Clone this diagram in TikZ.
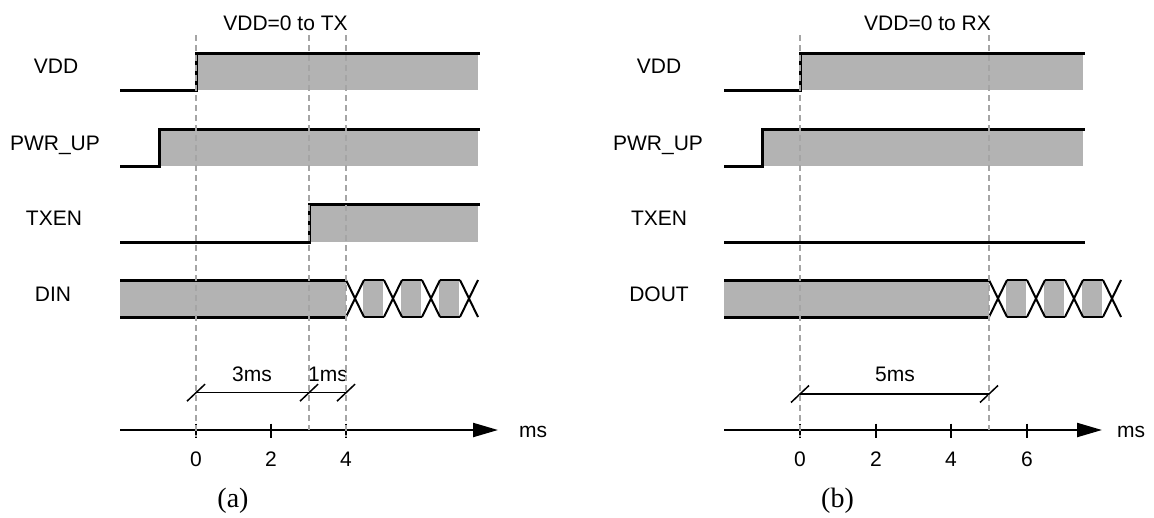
\documentclass[tikz,border=0pt]{standalone}
\usepackage{fontspec}
\setmainfont{Liberation Sans}
\newfontfamily\capfont{Liberation Serif}
\usetikzlibrary{arrows.meta}
\definecolor{sigfill}{RGB}{179,179,179}
\definecolor{guidegray}{RGB}{165,165,165}
\begin{document}
\begin{tikzpicture}[x=1pt,y=-1pt,
  sig/.style={line width=3pt,line join=miter},
  xline/.style={line width=2pt},
  axisline/.style={line width=2.2pt},
  tickline/.style={line width=2pt},
  dimline/.style={line width=1.5pt},
  guide/.style={guidegray,line width=1.3pt,dash pattern=on 6pt off 4pt},
  lbl/.style={inner sep=0pt,anchor=base,font=\fontsize{21}{25}\selectfont},
  captxt/.style={inner sep=0pt,anchor=base,font=\capfont\fontsize{28}{32}\selectfont}]
\useasboundingbox (0,0) rectangle (1154,517);

% ================= panel (a) =================
\fill[sigfill] (196,53) rectangle (478,90);
\fill[sigfill] (159,129) rectangle (478,166);
\fill[sigfill] (309,204) rectangle (478,242);
\fill[sigfill] (120,280) rectangle (346,317);
\foreach \k in {0,1,2} \fill[sigfill] ({363+38*\k},280) rectangle ({383+38*\k},317);

\draw[sig] (120,90) -- (196,90) -- (196,53) -- (480,53);
\draw[sig] (120,166) -- (159,166) -- (159,129) -- (480,129);
\draw[sig] (120,242) -- (309,242) -- (309,204) -- (480,204);
\draw[sig] (120,280) -- (346,280);
\draw[sig] (120,317) -- (346,317);
\foreach \k in {0,...,3} {
  \draw[xline] ({346+38*\k},280) -- ({364+38*\k},317);
  \draw[xline] ({346+38*\k},317) -- ({364+38*\k},280);
}
\foreach \k in {0,1,2} {
  \draw[xline] ({364+38*\k},280) -- ({384+38*\k},280);
  \draw[xline] ({364+38*\k},317) -- ({384+38*\k},317);
}

\node[lbl] (aVDD) at (56,73.5) {VDD};
\node[lbl] (aPWR) at (55,150) {PWR\_UP};
\node[lbl] (aTXEN) at (54,225) {TXEN};
\node[lbl] (aDIN) at (53,301.5) {DIN};
\node[lbl] (atitle) at (285.5,30) {VDD=0 to TX};

% axis
\coordinate (aax0) at (120,430);
\coordinate (aax1) at (498,430);
\draw[axisline,-{Triangle[length=25pt,width=14pt]}] (aax0) -- (aax1);
\foreach \x/\t in {196/0,271/2,346/4} {
  \draw[tickline] (\x,423.5) -- (\x,437.5);
  \node[lbl] (at\t) at (\x,466.5) {\t};
}
\node[lbl] (ams) at (533,437) {ms};

% dimension
\coordinate (ad0) at (196,392.7);
\coordinate (ad3) at (309,392.7);
\coordinate (ad4) at (346,392.7);
\draw[dimline] (ad0) -- (ad4);
\foreach \c in {ad0,ad3,ad4} \draw[dimline] ([shift={(-9,8.5)}]\c) -- ([shift={(9,-8.5)}]\c);
\node[lbl] (a3ms) at (252,381.7) {3ms};
\node[lbl] (a1ms) at (328,381.7) {1ms};

\node[captxt] (acap) at (233,507.5) {(a)};

\draw[guide] (196,35) -- (196,437);
\draw[guide] (309,35) -- (309,430);
\draw[guide] (346,35) -- (346,437);

% ================= panel (b) =================
\fill[sigfill] (800,53) rectangle (1083,90);
\fill[sigfill] (762,129) rectangle (1083,166);
\fill[sigfill] (724,280) rectangle (989,317);
\foreach \k in {0,1,2} \fill[sigfill] ({1006+38*\k},280) rectangle ({1026+38*\k},317);

\draw[sig] (724,90) -- (800,90) -- (800,53) -- (1085,53);
\draw[sig] (724,166) -- (762,166) -- (762,129) -- (1085,129);
\draw[sig] (724,242) -- (1085,242);
\draw[sig] (724,280) -- (989,280);
\draw[sig] (724,317) -- (989,317);
\foreach \k in {0,...,3} {
  \draw[xline] ({989+38*\k},280) -- ({1007+38*\k},317);
  \draw[xline] ({989+38*\k},317) -- ({1007+38*\k},280);
}
\foreach \k in {0,1,2} {
  \draw[xline] ({1007+38*\k},280) -- ({1027+38*\k},280);
  \draw[xline] ({1007+38*\k},317) -- ({1027+38*\k},317);
}

\node[lbl] (bVDD) at (659,73.5) {VDD};
\node[lbl] (bPWR) at (658,150) {PWR\_UP};
\node[lbl] (bTXEN) at (659,225) {TXEN};
\node[lbl] (bDOUT) at (659,301.5) {DOUT};
\node[lbl] (btitle) at (927.5,30) {VDD=0 to RX};

\coordinate (bax0) at (724,430);
\coordinate (bax1) at (1102,430);
\draw[axisline,-{Triangle[length=25pt,width=14pt]}] (bax0) -- (bax1);
\foreach \x/\t in {800/0,876/2,951/4,1027/6} {
  \draw[tickline] (\x,423.5) -- (\x,437.5);
  \node[lbl] (bt\t) at (\x,466.5) {\t};
}
\node[lbl] (bms) at (1131,437) {ms};

\coordinate (bd0) at (800,394);
\coordinate (bd5) at (989,394);
\draw[dimline] (bd0) -- (bd5);
\foreach \c in {bd0,bd5} \draw[dimline] ([shift={(-9,8.5)}]\c) -- ([shift={(9,-8.5)}]\c);
\node[lbl] (b5ms) at (895,381.7) {5ms};

\node[captxt] (bcap) at (837.5,507.5) {(b)};

\draw[guide] (800,35) -- (800,437);
\draw[guide] (989,35) -- (989,430);
\end{tikzpicture}
\end{document}
